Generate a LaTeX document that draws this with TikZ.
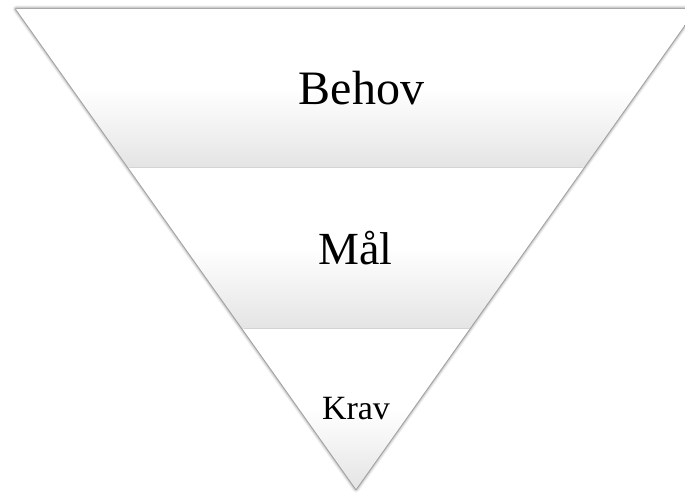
\documentclass[tikz,border=0pt]{standalone}
\usepackage{fontspec}
\setmainfont{Liberation Serif}
\definecolor{bandgray}{HTML}{E4E4E4}
\pgfdeclareverticalshading{bandshade}{100bp}{color(0bp)=(bandgray); color(25bp)=(bandgray); color(50bp)=(white); color(100bp)=(white)}
\begin{document}
\begin{tikzpicture}[x=1pt,y=-1pt,
  band/.style={shading=bandshade, draw=none},
  bandline/.style={draw=black!17, line width=1.8pt},
  lbl/.style={anchor=base, inner sep=0pt, text=black}]
\useasboundingbox (0,0) rectangle (685,495);
\fill[white] (0,0) rectangle (685,495);
% corners
\coordinate (TL) at (16,9);
\coordinate (TR) at (696,9);
\coordinate (L1) at (128.6,168);
\coordinate (R1) at (583.4,168);
\coordinate (L2) at (242.7,329);
\coordinate (R2) at (469.3,329);
\coordinate (T) at (356,489);
% soft shadow
\begin{scope}[shift={(0,1.2)}]
\foreach \w/\o in {7/0.05,5/0.08,3/0.12,1.6/0.2}
  \draw[line width=\w pt, black, opacity=\o, line join=round] (TL) -- (TR) -- (T) -- cycle;
\end{scope}
% bands
\path[band] (TL) -- (TR) -- (R1) -- (L1) -- cycle;
\draw[bandline] ([xshift=0.8pt]L1) -- ([xshift=-0.8pt]R1);
\path[band] (L1) -- (R1) -- (R2) -- (L2) -- cycle;
\draw[bandline] ([xshift=0.8pt]L2) -- ([xshift=-0.8pt]R2);
\path[band] (L2) -- (R2) -- (T) -- cycle;
% labels
\node[lbl, font=\fontsize{48}{48}\selectfont] (behov) at (361.5,104) {Behov};
\node[lbl, font=\fontsize{46}{46}\selectfont] (maal) at (355.5,264) {Mål};
\node[lbl, font=\fontsize{34}{34}\selectfont] (krav) at (356,419) {Krav};
\end{tikzpicture}
\end{document}
